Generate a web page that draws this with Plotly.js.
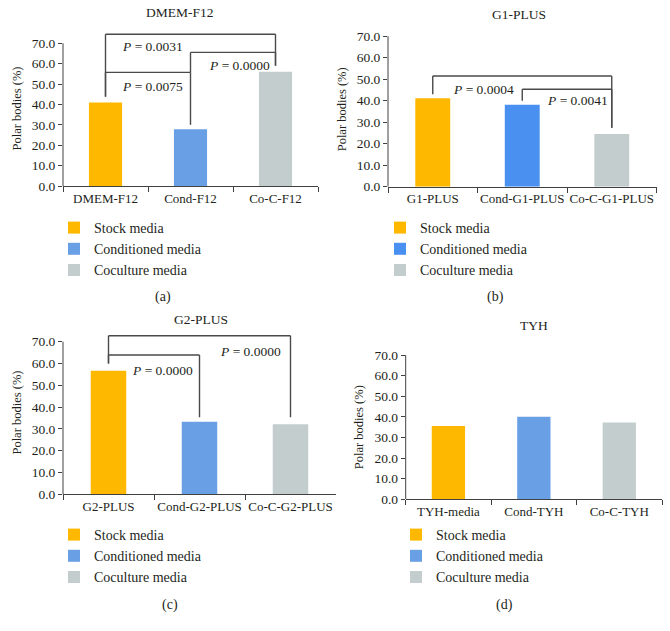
<!DOCTYPE html>
<html>
<head>
<meta charset="utf-8">
<script src="https://cdn.plot.ly/plotly-3.0.1.min.js"></script>
<style>
  html, body { margin: 0; padding: 0; background: #fff; }
  #chart { width: 670px; height: 631px; }
</style>
</head>
<body>
<div id="chart"></div>
<script>
// data (polar bodies, %)
var catsA = ["DMEM-F12", "Cond-F12", "Co-C-F12"];
var valsA = [41.0, 27.8, 56.0];
var pA = ["0.0075", "0.0000", "0.0031"];

var catsB = ["G1-PLUS", "Cond-G1-PLUS", "Co-C-G1-PLUS"];
var valsB = [41.1, 38.1, 24.5];
var pB = ["0.0004", "0.0041"];

var catsC = ["G2-PLUS", "Cond-G2-PLUS", "Co-C-G2-PLUS"];
var valsC = [56.7, 33.3, 32.1];
var pC = ["0.0000", "0.0000"];

var catsD = ["TYH-media", "Cond-TYH", "Co-C-TYH"];
var valsD = [35.6, 40.1, 37.2];

var mediaNames = ["Stock media", "Conditioned media", "Coculture media"];
var yTicks = [0, 10, 20, 30, 40, 50, 60, 70];

var FONT = "'Liberation Serif'";
var AXC = "#404040";
var TXT = "#231f20";
var W = 670, H = 631;

function px(x) { return x / W; }
function py(y) { return (H - y) / H; }

var panels = [
  { id: "", cats: catsA, vals: valsA, title: "DMEM-F12", tag: "(a)",
    colors: ["#FFB800", "#69A0E5", "#C3CDCD"],
    x: [63, 318], y: [186, 31], ymax: 76, legend: "legend",
    titlePos: [180, 13], tagPos: [163, 297], legPos: [54, 212],
    brackets: [
      { i: 0, j: 1, h: 55.7, fi: 43.8, fj: 30.0, p: pA[0], lx: 0.17, ly: 49 },
      { i: 1, j: 2, h: 65.5, fi: 55.7, fj: 59.0, p: pA[1], lx: 1.19, ly: 59.3 },
      { i: 0, j: 2, h: 74.4, fi: 43.8, fj: 59.0, p: pA[2], lx: 0.17, ly: 68.3 }
    ] },
  { id: "2", cats: catsB, vals: valsB, title: "G1-PLUS", tag: "(b)",
    colors: ["#FFB800", "#4A90F0", "#C3CDCD"],
    x: [388, 656.5], y: [186.7, 31.9], ymax: 72, legend: "legend2",
    titlePos: [519, 15], tagPos: [495, 297], legPos: [380, 212],
    brackets: [
      { i: 0, j: 2, h: 51.5, fi: 43.0, fj: 27.4, p: pB[0], lx: 0.2, ly: 45.3 },
      { i: 1, j: 2, h: 45.3, fi: 40.0, fj: 27.4, p: pB[1], lx: 1.25, ly: 40.0 }
    ] },
  { id: "3", cats: catsC, vals: valsC, title: "G2-PLUS", tag: "(c)",
    colors: ["#FFB800", "#69A0E5", "#C3CDCD"],
    x: [63, 336], y: [494.3, 330.8], ymax: 75, legend: "legend3",
    titlePos: [201, 319], tagPos: [170, 605], legPos: [54, 519],
    brackets: [
      { i: 0, j: 1, h: 63.9, fi: 60.0, fj: 35.3, p: pC[0], lx: 0.236, ly: 57.0 },
      { i: 0, j: 2, h: 72.7, fi: 60.0, fj: 35.3, p: pC[1], lx: 1.20, ly: 65.4 }
    ] },
  { id: "4", cats: catsD, vals: valsD, title: "TYH", tag: "(d)",
    colors: ["#FFB800", "#69A0E5", "#C3CDCD"],
    x: [405.7, 662], y: [499.3, 355], ymax: 70, legend: "legend4",
    titlePos: [533.5, 325], tagPos: [505, 605], legPos: [396, 519],
    brackets: [] }
];

var traces = [], shapes = [], annotations = [];
var layout = {
  width: W, height: H,
  margin: { l: 0, r: 0, t: 0, b: 0 },
  paper_bgcolor: "#fff", plot_bgcolor: "#fff",
  barmode: "overlay", bargap: 0.61,
  font: { family: FONT, size: 13, color: TXT },
  showlegend: true
};

panels.forEach(function(p) {
  var xa = "x" + p.id, ya = "y" + p.id;
  for (var k = 0; k < p.cats.length; k++) {
    traces.push({
      type: "bar", x: [p.cats[k]], y: [p.vals[k]],
      xaxis: xa, yaxis: ya, name: mediaNames[k], legend: p.legend,
      marker: { color: p.colors[k], line: { width: 0 } },
      hoverinfo: "x+y"
    });
  }
  layout["xaxis" + p.id] = {
    domain: [px(p.x[0]), px(p.x[1])], anchor: ya,
    type: "category", categoryorder: "array", categoryarray: p.cats,
    showline: true, linecolor: AXC, linewidth: 1, mirror: false,
    ticks: "outside", tickson: "boundaries", ticklen: 5, tickcolor: AXC,
    tickangle: 0, automargin: false,
    showgrid: false, zeroline: false, fixedrange: true,
    tickfont: { family: FONT, size: 13, color: TXT }
  };
  layout["yaxis" + p.id] = {
    domain: [py(p.y[0]), py(p.y[1])], anchor: xa,
    range: [0, p.ymax], tickvals: yTicks,
    ticktext: yTicks.map(function(v) { return v.toFixed(1); }),
    showline: false, ticks: "outside", ticklen: 4, tickcolor: AXC,
    showgrid: false, zeroline: false, fixedrange: true, automargin: false,
    tickfont: { family: FONT, size: 13.5, color: TXT },
    title: { text: "Polar bodies (%)", font: { family: FONT, size: 12.5, color: TXT }, standoff: 7 }
  };
  // y axis line only up to 70
  shapes.push({ type: "line", xref: xa + " domain", yref: ya, x0: 0, x1: 0, y0: 0, y1: 70,
    line: { color: AXC, width: 1 } });

  p.brackets.forEach(function(b) {
    var ln = { color: "#4a4a4a", width: 1.4 };
    shapes.push({ type: "line", xref: xa, yref: ya, x0: b.i, x1: b.i, y0: b.fi, y1: b.h, line: ln });
    shapes.push({ type: "line", xref: xa, yref: ya, x0: b.i, x1: b.j, y0: b.h, y1: b.h, line: ln });
    shapes.push({ type: "line", xref: xa, yref: ya, x0: b.j, x1: b.j, y0: b.h, y1: b.fj, line: ln });
    annotations.push({ xref: xa, yref: ya, x: b.lx, y: b.ly, xanchor: "left", yanchor: "middle",
      text: "<i>P</i> = " + b.p, showarrow: false, font: { family: FONT, size: 13.5, color: TXT } });
  });

  annotations.push({ xref: "paper", yref: "paper", x: px(p.titlePos[0]), y: py(p.titlePos[1]),
    xanchor: "center", yanchor: "middle", text: p.title, showarrow: false,
    font: { family: FONT, size: 13.5, color: TXT } });
  annotations.push({ xref: "paper", yref: "paper", x: px(p.tagPos[0]), y: py(p.tagPos[1]),
    xanchor: "center", yanchor: "middle", text: p.tag, showarrow: false,
    font: { family: FONT, size: 14, color: TXT } });

  layout[p.legend] = {
    x: px(p.legPos[0]), y: py(p.legPos[1]), xanchor: "left", yanchor: "top",
    orientation: "v", bgcolor: "rgba(0,0,0,0)", borderwidth: 0,
    font: { family: FONT, size: 14, color: TXT },
    traceorder: "normal", tracegroupgap: 0, itemclick: false, itemdoubleclick: false
  };
});

layout.shapes = shapes;
layout.annotations = annotations;

Plotly.newPlot("chart", traces, layout, { displayModeBar: false, staticPlot: true });
</script>
</body>
</html>
